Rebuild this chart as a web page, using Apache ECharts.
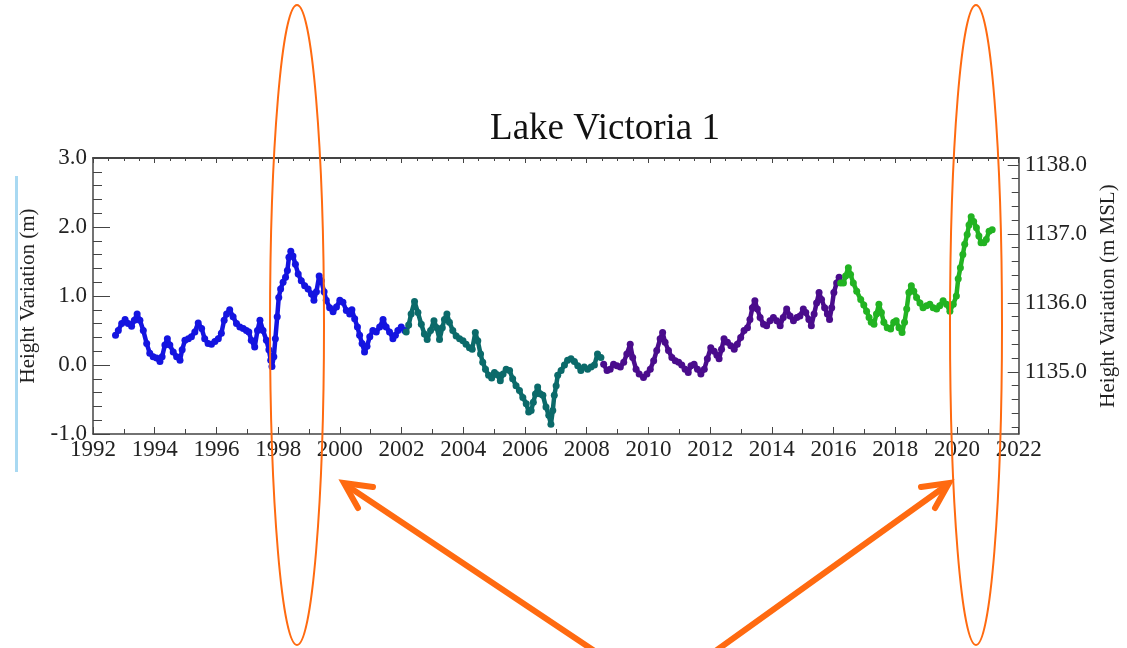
<!DOCTYPE html>
<html>
<head>
<meta charset="utf-8">
<title>Lake Victoria 1</title>
<script src="https://cdn.jsdelivr.net/npm/echarts@6/dist/echarts.min.js"></script>
<style>
  html, body { margin: 0; padding: 0; background: #fff; }
  #chart { width: 1127px; height: 648px; }
</style>
</head>
<body>
<div id="chart"></div>
<script>
// Lake Victoria altimetry: height variation (m) against decimal year, one array per mission colour.
const blueSeg = [
  [1992.73,0.43],[1992.82,0.50],[1992.93,0.60],[1993.04,0.66],[1993.14,0.60],[1993.25,0.56],
  [1993.34,0.65],[1993.43,0.74],[1993.52,0.65],[1993.63,0.50],[1993.74,0.31],[1993.84,0.17],
  [1993.95,0.12],[1994.06,0.10],[1994.17,0.05],[1994.24,0.12],[1994.33,0.29],[1994.41,0.38],
  [1994.49,0.29],[1994.60,0.19],[1994.71,0.12],[1994.82,0.07],[1994.89,0.22],[1994.98,0.36],
  [1995.09,0.38],[1995.19,0.41],[1995.30,0.48],[1995.41,0.61],[1995.52,0.53],[1995.62,0.38],
  [1995.73,0.31],[1995.84,0.30],[1995.95,0.34],[1996.06,0.38],[1996.16,0.46],[1996.25,0.65],
  [1996.33,0.74],[1996.43,0.80],[1996.54,0.70],[1996.65,0.60],[1996.76,0.55],[1996.87,0.53],
  [1996.97,0.50],[1997.05,0.48],[1997.13,0.36],[1997.24,0.26],[1997.33,0.50],[1997.41,0.65],
  [1997.51,0.50],[1997.62,0.36],[1997.70,0.22],[1997.76,0.07],[1997.80,-0.02],[1997.86,0.12],
  [1997.91,0.38],[1997.97,0.70],[1998.02,0.98],[1998.08,1.10],[1998.16,1.20],[1998.24,1.27],
  [1998.30,1.37],[1998.35,1.56],[1998.41,1.65],[1998.48,1.58],[1998.56,1.46],[1998.65,1.32],
  [1998.75,1.22],[1998.86,1.15],[1998.97,1.10],[1999.08,1.03],[1999.16,0.94],[1999.24,1.06],
  [1999.33,1.29],[1999.40,1.22],[1999.49,1.06],[1999.56,0.94],[1999.67,0.83],[1999.78,0.77],
  [1999.89,0.84],[2000.00,0.94],[2000.10,0.91],[2000.21,0.79],[2000.32,0.74],[2000.39,0.80],
  [2000.48,0.67],[2000.57,0.55],[2000.64,0.43],[2000.72,0.31],[2000.80,0.19],[2000.88,0.27],
  [2000.97,0.41],[2001.07,0.50],[2001.18,0.48],[2001.29,0.55],[2001.40,0.66],[2001.50,0.55],
  [2001.61,0.48],[2001.72,0.38],[2001.80,0.43],[2001.88,0.50],[2001.99,0.55],[2002.10,0.50]
];
const tealSeg = [
  [2002.15,0.48],[2002.23,0.58],[2002.31,0.74],[2002.42,0.92],[2002.53,0.76],[2002.64,0.59],
  [2002.74,0.45],[2002.83,0.37],[2002.94,0.50],[2003.05,0.64],[2003.14,0.54],[2003.23,0.37],
  [2003.32,0.54],[2003.39,0.66],[2003.47,0.74],[2003.55,0.62],[2003.66,0.50],[2003.77,0.42],
  [2003.88,0.38],[2003.99,0.35],[2004.09,0.30],[2004.20,0.25],[2004.29,0.23],[2004.39,0.47],
  [2004.47,0.35],[2004.56,0.16],[2004.63,0.04],[2004.72,-0.06],[2004.82,-0.15],[2004.92,-0.19],
  [2005.01,-0.11],[2005.10,-0.14],[2005.20,-0.23],[2005.29,-0.13],[2005.39,-0.06],[2005.50,-0.08],
  [2005.60,-0.20],[2005.71,-0.30],[2005.82,-0.37],[2005.93,-0.47],[2006.04,-0.56],[2006.12,-0.68],
  [2006.20,-0.66],[2006.27,-0.54],[2006.34,-0.42],[2006.41,-0.32],[2006.50,-0.42],[2006.58,-0.44],
  [2006.68,-0.61],[2006.77,-0.73],[2006.84,-0.86],[2006.90,-0.66],[2006.95,-0.44],[2007.01,-0.30],
  [2007.06,-0.15],[2007.17,-0.08],[2007.28,0.00],[2007.38,0.07],[2007.49,0.09],[2007.60,0.05],
  [2007.71,-0.01],[2007.81,-0.08],[2007.92,-0.03],[2008.03,-0.06],[2008.14,-0.03],[2008.25,0.00],
  [2008.35,0.16],[2008.46,0.11]
];
const purpleSeg = [
  [2008.55,0.01],[2008.66,-0.08],[2008.76,-0.06],[2008.87,0.01],[2008.98,-0.01],[2009.09,-0.03],
  [2009.20,0.04],[2009.30,0.16],[2009.41,0.30],[2009.49,0.11],[2009.60,-0.06],[2009.70,-0.13],
  [2009.84,-0.18],[2009.95,-0.13],[2010.06,-0.06],[2010.17,0.06],[2010.27,0.21],[2010.38,0.38],
  [2010.46,0.47],[2010.54,0.33],[2010.65,0.21],[2010.76,0.11],[2010.87,0.06],[2010.98,0.04],
  [2011.08,0.00],[2011.19,-0.06],[2011.29,-0.11],[2011.38,-0.01],[2011.48,0.01],[2011.59,-0.06],
  [2011.70,-0.13],[2011.81,-0.06],[2011.91,0.09],[2012.02,0.25],[2012.13,0.20],[2012.22,0.14],
  [2012.29,0.09],[2012.37,0.23],[2012.45,0.38],[2012.56,0.33],[2012.67,0.28],[2012.78,0.23],
  [2012.88,0.30],[2012.99,0.40],[2013.10,0.50],[2013.21,0.54],[2013.29,0.66],[2013.37,0.83],
  [2013.45,0.93],[2013.53,0.81],[2013.62,0.69],[2013.73,0.59],[2013.83,0.57],[2013.94,0.64],
  [2014.05,0.69],[2014.16,0.64],[2014.27,0.57],[2014.37,0.69],[2014.48,0.81],[2014.59,0.71],
  [2014.70,0.64],[2014.81,0.69],[2014.91,0.71],[2015.02,0.81],[2015.10,0.76],[2015.20,0.66],
  [2015.28,0.57],[2015.37,0.74],[2015.45,0.90],[2015.53,1.05],[2015.61,0.95],[2015.71,0.83],
  [2015.80,0.74],[2015.87,0.66],[2015.94,0.83],[2016.01,1.05],[2016.10,1.19],[2016.18,1.27]
];
const greenSeg = [
  [2016.23,1.19],[2016.32,1.19],[2016.39,1.29],[2016.48,1.41],[2016.55,1.31],[2016.64,1.19],
  [2016.75,1.07],[2016.88,0.95],[2016.98,0.87],[2017.07,0.78],[2017.15,0.69],[2017.22,0.62],
  [2017.31,0.59],[2017.39,0.74],[2017.47,0.88],[2017.55,0.76],[2017.63,0.62],[2017.74,0.54],
  [2017.85,0.52],[2017.95,0.62],[2018.03,0.64],[2018.12,0.54],[2018.22,0.47],[2018.30,0.62],
  [2018.37,0.81],[2018.44,1.05],[2018.52,1.15],[2018.60,1.07],[2018.69,0.98],[2018.80,0.90],
  [2018.90,0.83],[2019.01,0.86],[2019.12,0.88],[2019.23,0.83],[2019.34,0.81],[2019.44,0.86],
  [2019.55,0.93],[2019.66,0.88],[2019.77,0.78],[2019.88,0.88],[2019.98,1.00],[2020.04,1.25],
  [2020.11,1.41],[2020.19,1.60],[2020.25,1.75],[2020.33,1.89],[2020.39,2.03],[2020.46,2.15],
  [2020.54,2.08],[2020.63,1.99],[2020.71,1.87],[2020.78,1.77],[2020.87,1.77],[2020.95,1.82],
  [2021.04,1.94],[2021.14,1.96]
];

// Right-hand axis in metres above mean sea level, tick labels and minor tick positions
const mslLabels = [1135.0, 1136.0, 1137.0, 1138.0];
const mslMinor = [1134.2,1134.4,1134.6,1134.8,1135.2,1135.4,1135.6,1135.8,
                  1136.2,1136.4,1136.6,1136.8,1137.2,1137.4,1137.6,1137.8];

const SERIF = '"Liberation Serif", "Times New Roman", serif';
const AXIS_COLOR = '#444';
const ORANGE = '#ff6a10';

function dotSeries(data, color) {
  return {
    type: 'line',
    data: data,
    xAxisIndex: 0,
    yAxisIndex: 0,
    symbol: 'circle',
    symbolSize: 7,
    showSymbol: true,
    lineStyle: { color: color, width: 4.5 },
    itemStyle: { color: color },
    silent: true
  };
}

const chart = echarts.init(document.getElementById('chart'), null, { renderer: 'canvas' });

chart.setOption({
  animation: false,
  backgroundColor: '#fff',
  title: {
    text: 'Lake Victoria 1',
    left: 600,
    textAlign: 'center',
    top: 106,
    textStyle: { fontFamily: SERIF, fontSize: 37, fontWeight: 'normal', color: '#111' }
  },
  grid: { left: 93, right: 104, top: 158, bottom: 214, containLabel: false },
  xAxis: [
    {
      type: 'value', position: 'bottom', min: 1992, max: 2022, interval: 2,
      axisLine: { show: true, onZero: false, lineStyle: { color: AXIS_COLOR, width: 1.5 } },
      axisTick: { show: true, inside: true, length: 7, lineStyle: { color: AXIS_COLOR } },
      minorTick: { show: true, splitNumber: 2, length: 5, lineStyle: { color: AXIS_COLOR } },
      axisLabel: { fontFamily: SERIF, fontSize: 23, color: '#222', margin: 4,
                   formatter: v => String(v) },
      splitLine: { show: false }, minorSplitLine: { show: false }
    },
    {
      type: 'value', position: 'top', min: 1992, max: 2022, interval: 2,
      axisLine: { show: true, onZero: false, lineStyle: { color: AXIS_COLOR, width: 2 } },
      axisTick: { show: true, inside: true, length: 5, lineStyle: { color: AXIS_COLOR } },
      minorTick: { show: true, splitNumber: 4, length: 3, lineStyle: { color: AXIS_COLOR } },
      axisLabel: { show: false },
      splitLine: { show: false }
    }
  ],
  yAxis: [
    {
      type: 'value', position: 'left', min: -1, max: 3, interval: 1,
      name: 'Height Variation (m)', nameLocation: 'middle', nameRotate: 90, nameGap: 54,
      nameTextStyle: { fontFamily: SERIF, fontSize: 21, color: '#222' },
      axisLine: { show: true, onZero: false, lineStyle: { color: AXIS_COLOR, width: 1.5 } },
      axisTick: { show: true, inside: true, length: 17, lineStyle: { color: AXIS_COLOR } },
      minorTick: { show: true, splitNumber: 5, length: 9, lineStyle: { color: AXIS_COLOR } },
      axisLabel: { fontFamily: SERIF, fontSize: 23, color: '#222', margin: 6,
                   formatter: v => v.toFixed(1) },
      splitLine: { show: false }
    },
    {
      type: 'value', position: 'right', min: 1134.1, max: 1138.1,
      name: 'Height Variation (m MSL)', nameLocation: 'middle', nameRotate: 90, nameGap: 72,
      nameTextStyle: { fontFamily: SERIF, fontSize: 21, color: '#222' },
      axisLine: { show: true, onZero: false, lineStyle: { color: AXIS_COLOR, width: 1.5 } },
      axisTick: { show: true, inside: true, length: 11, customValues: mslLabels,
                  lineStyle: { color: AXIS_COLOR } },
      axisLabel: { fontFamily: SERIF, fontSize: 23, color: '#222', margin: 6,
                   customValues: mslLabels, formatter: v => v.toFixed(1) },
      splitLine: { show: false }
    },
    {
      type: 'value', position: 'right', min: 1134.1, max: 1138.1,
      axisLine: { show: false, onZero: false },
      axisTick: { show: true, inside: true, length: 7, customValues: mslMinor,
                  lineStyle: { color: AXIS_COLOR } },
      axisLabel: { show: false },
      splitLine: { show: false }
    }
  ],
  series: [
    dotSeries(blueSeg, '#1414e0'),
    dotSeries(tealSeg, '#0b6a6a'),
    dotSeries(purpleSeg, '#4a0c8c'),
    dotSeries(greenSeg, '#22b322')
  ],
  graphic: [
    // light blue rule at the left margin
    { type: 'rect', shape: { x: 15, y: 176, width: 3, height: 296 },
      style: { fill: '#a9d9f2' }, silent: true },
    // highlight ellipses around the 1998 and 2020 rises
    { type: 'ellipse', shape: { cx: 297, cy: 325, rx: 27, ry: 320 },
      style: { fill: null, stroke: ORANGE, lineWidth: 2 }, silent: true, z: 100 },
    { type: 'ellipse', shape: { cx: 976, cy: 325, rx: 26, ry: 320 },
      style: { fill: null, stroke: ORANGE, lineWidth: 2 }, silent: true, z: 100 },
    // arrows pointing at the ellipses
    { type: 'line', shape: { x1: 593, y1: 650, x2: 346, y2: 485 },
      style: { stroke: ORANGE, lineWidth: 6, lineCap: 'round' }, silent: true, z: 100 },
    { type: 'polyline', shape: { points: [[373, 487], [344, 483], [358, 508]] },
      style: { fill: null, stroke: ORANGE, lineWidth: 6, lineCap: 'round', lineJoin: 'miter' },
      silent: true, z: 100 },
    { type: 'line', shape: { x1: 717, y1: 650, x2: 947, y2: 485 },
      style: { stroke: ORANGE, lineWidth: 6, lineCap: 'round' }, silent: true, z: 100 },
    { type: 'polyline', shape: { points: [[921, 487], [949, 483], [935, 508]] },
      style: { fill: null, stroke: ORANGE, lineWidth: 6, lineCap: 'round', lineJoin: 'miter' },
      silent: true, z: 100 }
  ]
});
</script>
</body>
</html>
